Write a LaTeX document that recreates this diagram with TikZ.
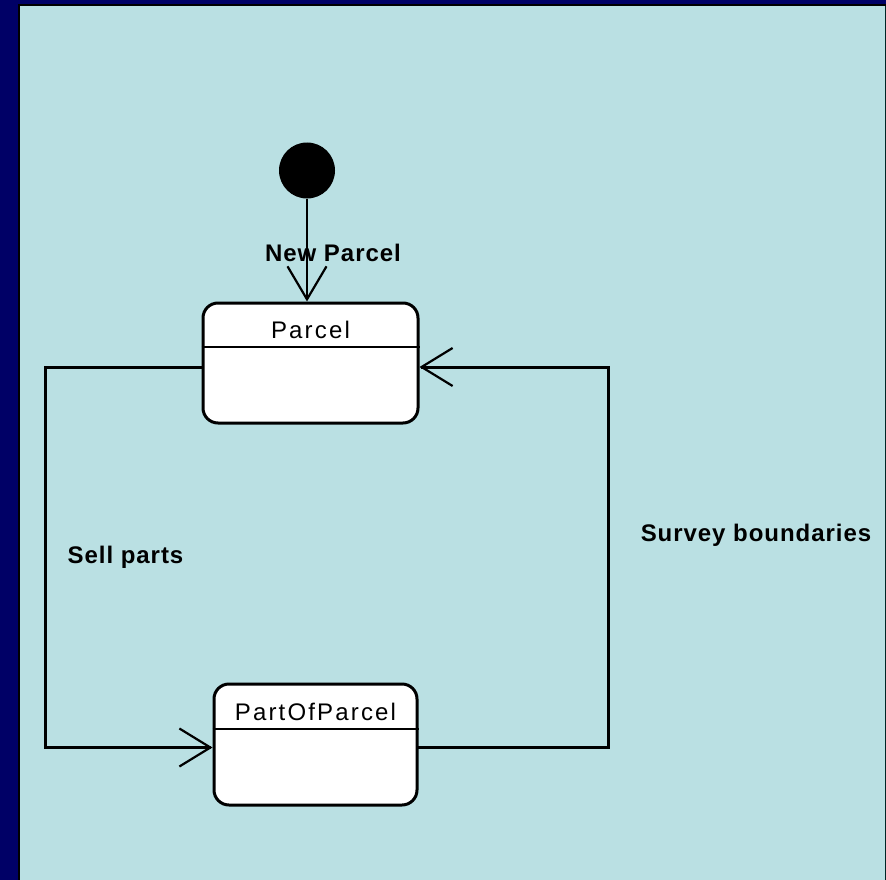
\documentclass[tikz,border=0pt]{standalone}
\usepackage{fontspec}
\setmainfont{Liberation Sans}
\newfontfamily\lblfont[LetterSpace=4]{Liberation Sans}
\newfontfamily\ttlfont[LetterSpace=9]{Liberation Sans}
\usetikzlibrary{arrows.meta}
\definecolor{navy}{HTML}{000066}
\definecolor{bgblue}{HTML}{BAE0E3}
\begin{document}
\begin{tikzpicture}[x=1pt,y=-1pt,
  statebox/.style={draw=black, line width=3pt, fill=white, rounded corners=15pt, inner sep=0pt},
  sep/.style={line width=2pt},
  title/.style={font=\ttlfont\fontsize{24}{24}\selectfont, inner sep=0pt},
  lbl/.style={font=\lblfont\bfseries\fontsize{24}{24}\selectfont, inner sep=0pt},
  conn/.style={line width=3pt, line cap=rect, -{Straight Barb[length=31pt, width=38pt, line width=2.2pt]}},
  initline/.style={line width=2pt, -{Straight Barb[length=33pt, width=39pt, line width=2.2pt]}}
]
\useasboundingbox (0,0) rectangle (886,880);
\fill[navy] (0,0) rectangle (886,880);
\fill[black] (18,4) rectangle (886,880);
\fill[bgblue] (20,6) rectangle (886,880);
\draw[color=black!70!teal, line width=1pt] (885.5,6) -- (885.5,880);

\node[statebox, minimum width=215pt, minimum height=120pt] (parcel) at (310.5,363) {};
\draw[sep] ([yshift=-45pt]parcel.north west) -- ([yshift=-45pt]parcel.north east);
\node[title] (parceltitle) at ([yshift=-28pt]parcel.north) {Parcel};

\node[statebox, minimum width=203pt, minimum height=121pt] (part) at (315.5,744.5) {};
\draw[sep] ([yshift=-46pt]part.north west) -- ([yshift=-46pt]part.north east);
\node[title] (parttitle) at ([yshift=-29pt]part.north) {PartOfParcel};

\node[circle, fill=black, minimum size=56pt, inner sep=0pt] (init) at (307,170.5) {};
\draw[initline] (init.south) -- (init.south |- parcel.north);
\node[lbl] (newlbl) at (333,253) {New Parcel};

\draw[conn] ([yshift=-4pt]parcel.west) -- ++(-156,0) |- ([yshift=-3pt]part.west);
\draw[conn] ([yshift=-3pt]part.east) -- ++(190,0) |- ([yshift=-4pt]parcel.east);

\node[lbl] (selllbl) at (125.5,557) {Sell parts};
\node[lbl] (surveylbl) at (756,535) {Survey boundaries};
\end{tikzpicture}
\end{document}
